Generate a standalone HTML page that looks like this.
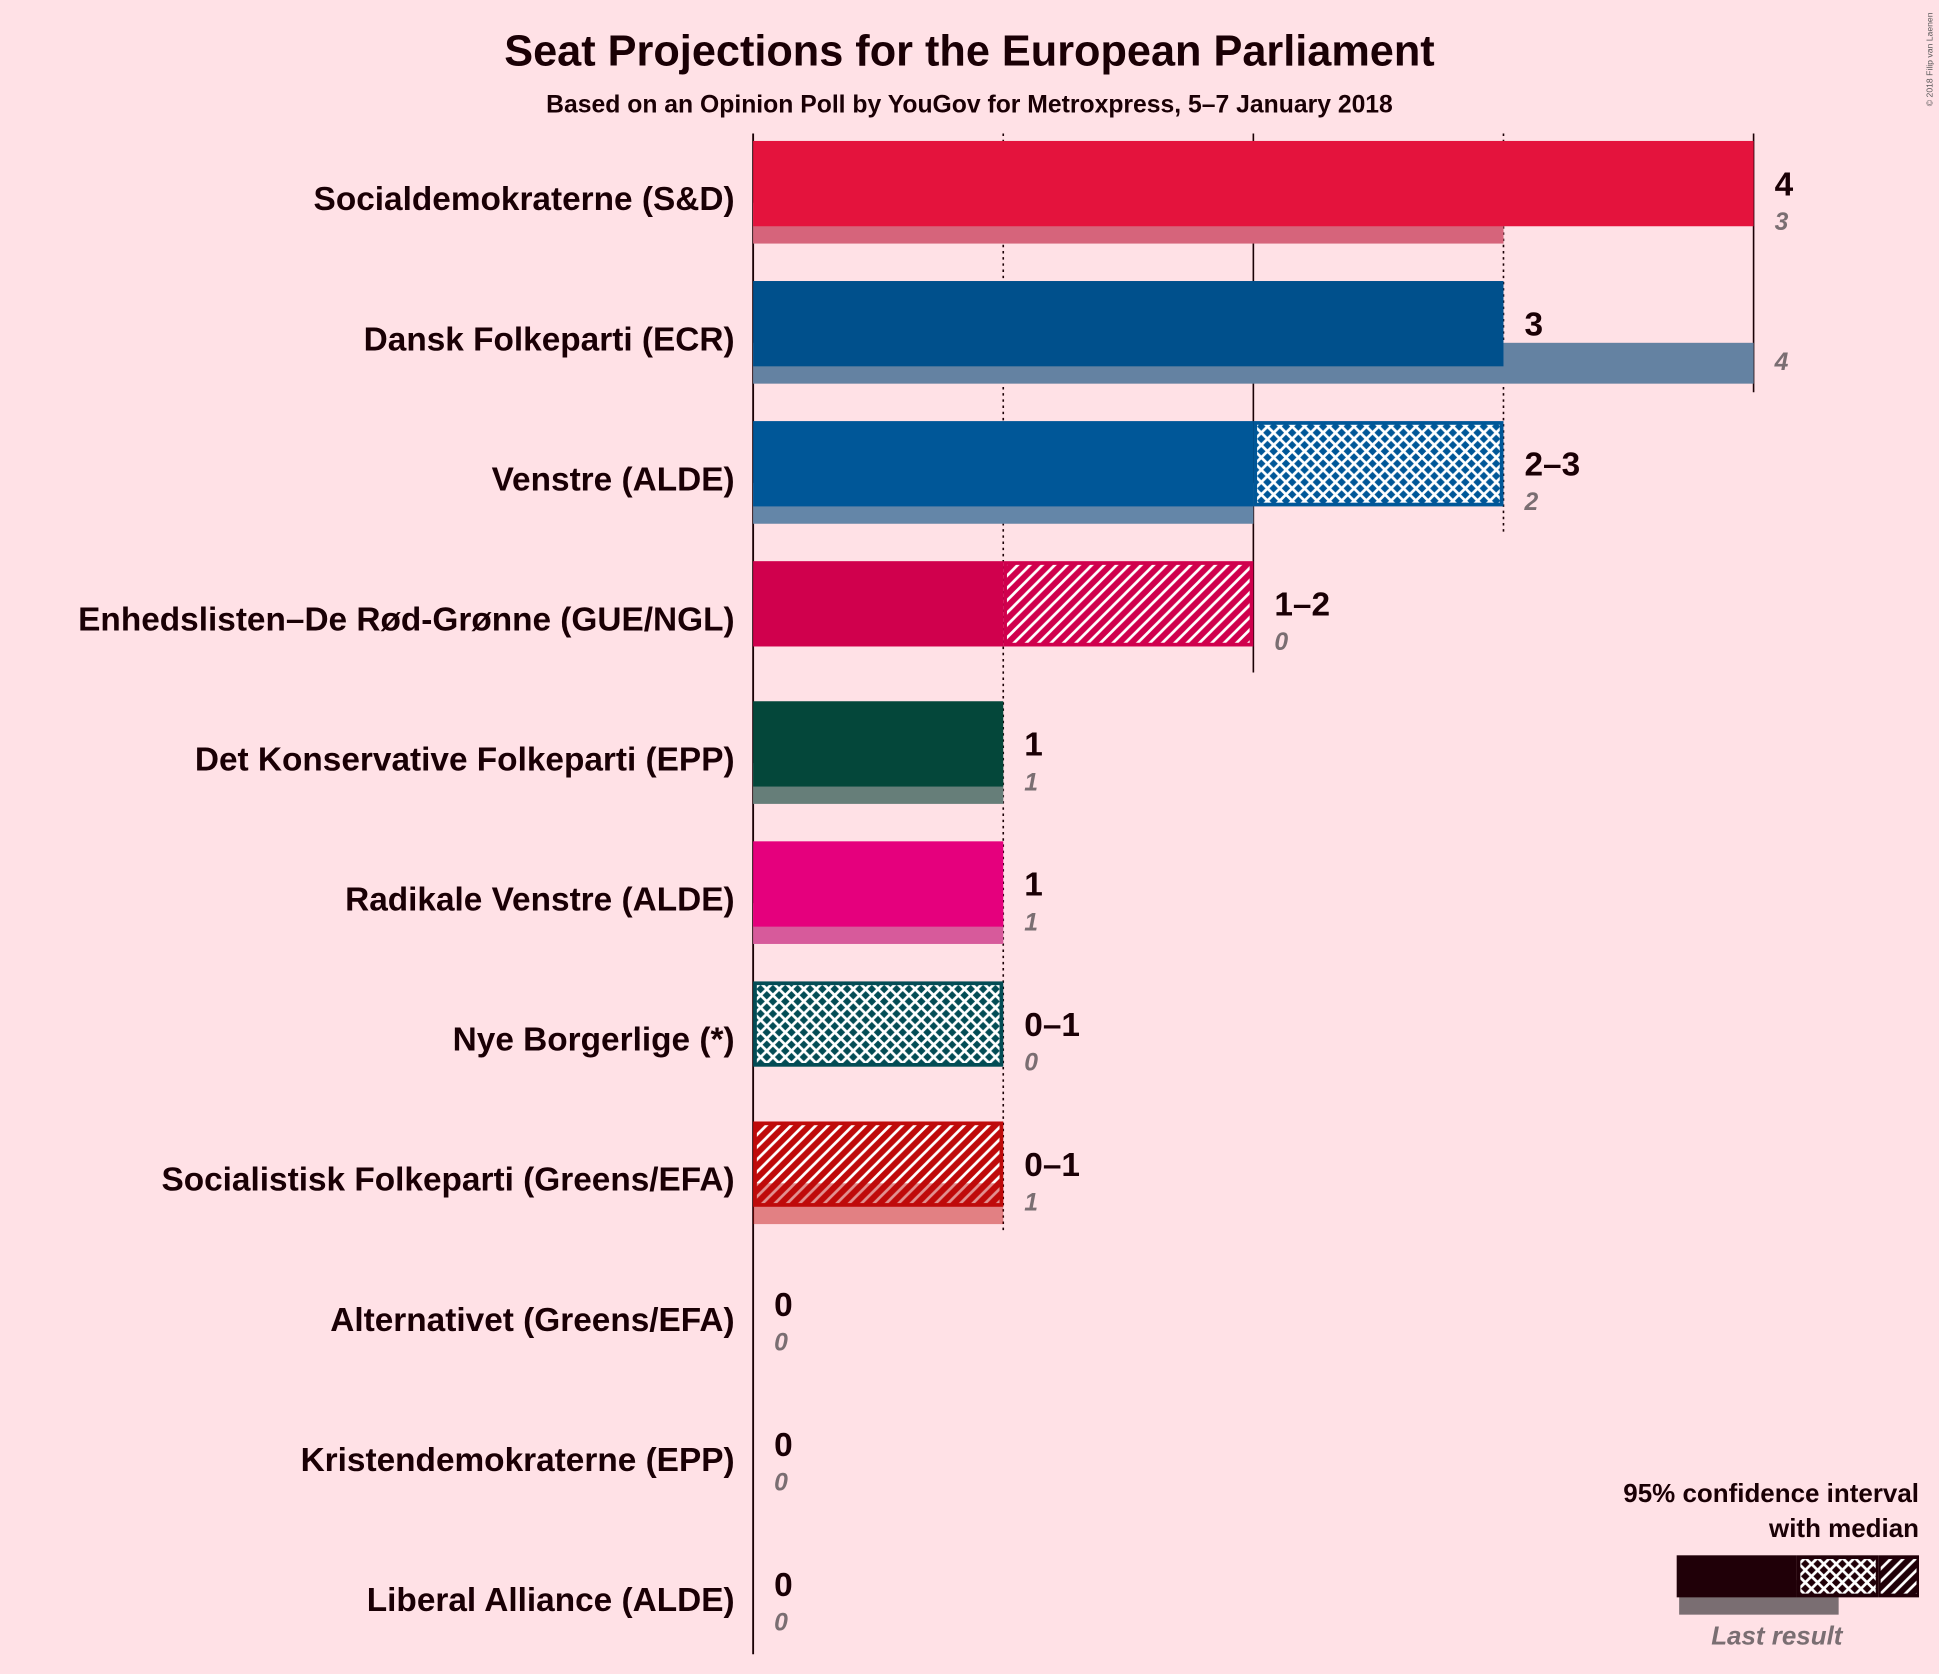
<!DOCTYPE html>
<html><head><meta charset="utf-8"><style>
html,body{margin:0;padding:0;background:#FFE1E6;}
svg{display:block;font-family:"Liberation Sans",sans-serif;}
</style></head><body>
<svg id="chart" width="1939" height="1674" viewBox="0 0 1568 1354" xmlns="http://www.w3.org/2000/svg">
<defs>
<pattern id="cross" patternUnits="userSpaceOnUse" width="10" height="10">
<path d="M0,0L10,10M10,0L0,10" stroke="#fff" stroke-width="2.2"/>
</pattern>
<pattern id="diag" patternUnits="userSpaceOnUse" width="10" height="10">
<path d="M-2,12L12,-2M-2,2L2,-2M8,12L12,8" stroke="#fff" stroke-width="2.2"/>
</pattern>
</defs>
<rect width="1568" height="1354" fill="#FFE1E6"/>
<text x="784" y="53" text-anchor="middle" font-size="35" font-weight="bold" fill="#1a0005">Seat Projections for the European Parliament</text>
<text x="784" y="91" text-anchor="middle" font-size="20" font-weight="bold" fill="#1a0005">Based on an Opinion Poll by YouGov for Metroxpress, 5–7 January 2018</text>
<text transform="translate(1563,48) rotate(-90)" text-anchor="middle" font-size="7" fill="#555">© 2018 Filip van Laenen</text>
<g id="grid"></g><g id="bars"></g>
<g>
<text x="1552" y="1215" text-anchor="end" font-size="21" font-weight="bold" fill="#1a0005">95% confidence interval</text>
<text x="1552" y="1243" text-anchor="end" font-size="21" font-weight="bold" fill="#1a0005">with median</text>
<rect x="1358" y="1278" width="129" height="28" fill="#7a6e72"/>
<rect x="1356" y="1258" width="97" height="34" fill="#200008"/>
<rect x="1453" y="1258" width="66" height="34" fill="#200008"/>
<rect x="1456" y="1261" width="61" height="28" fill="url(#cross)"/>
<rect x="1519" y="1258" width="33" height="34" fill="#200008"/>
<rect x="1521" y="1261" width="29" height="28" fill="url(#diag)"/>
<text x="1437" y="1330" text-anchor="middle" font-size="21" font-style="italic" font-weight="bold" fill="#7a6e72">Last result</text>
</g>
</svg>
<script>
const parties=["Socialdemokraterne (S&D)","Dansk Folkeparti (ECR)","Venstre (ALDE)","Enhedslisten–De Rød-Grønne (GUE/NGL)","Det Konservative Folkeparti (EPP)","Radikale Venstre (ALDE)","Nye Borgerlige (*)","Socialistisk Folkeparti (Greens/EFA)","Alternativet (Greens/EFA)","Kristendemokraterne (EPP)","Liberal Alliance (ALDE)"];
const lows=[4,3,2,1,1,1,0,0,0,0,0];
const medians=[4,3,3,1,1,1,1,0,0,0,0];
const highs=[4,3,3,2,1,1,1,1,0,0,0];
const lastResults=[3,4,2,0,1,1,0,1,0,0,0];
const colors=["#E4133D","#00508C","#005798","#D0004D","#04473A","#E5007D","#034C55","#BF0A0A","#5AB54B","#F29D00","#12B3C9"];
const NS="http://www.w3.org/2000/svg";
const x0=609,seatW=202.3;
function xs(v){return x0+v*seatW;}
function rowTop(i){return 114+i*113.3;}
function mk(tag,attrs,parent){const e=document.createElementNS(NS,tag);for(const k in attrs)e.setAttribute(k,attrs[k]);parent.appendChild(e);return e;}
const grid=document.getElementById('grid'),bars=document.getElementById('bars');
for(let k=1;k<=4;k++){
  let lastRow=-1;
  for(let i=0;i<parties.length;i++){if(highs[i]>=k||lastResults[i]>=k)lastRow=i;}
  if(lastRow<0)continue;
  const l=mk('line',{x1:xs(k),x2:xs(k),y1:108,y2:rowTop(lastRow)+90,stroke:'#1a0005','stroke-width':1.3,'stroke-dasharray':k%2==0?'none':'2,3'},grid);
  
  
}
const ax=mk('line',{x1:x0,x2:x0,y1:108,y2:1338,stroke:'#1a0005','stroke-width':1.5},grid);


parties.forEach((p,i)=>{
  const t=rowTop(i),c=colors[i];
  const g=mk('g',{},bars);
  
  
  const lab=mk('text',{x:594,y:t+56,'text-anchor':'end','font-size':27,'font-weight':'bold',fill:'#1a0005'},g);
  lab.textContent=p;
  
  
  function lastBar(nm,base){
    const w=xs(lastResults[i])-x0;
    if(base){
      const u=mk('rect',{x:x0,y:t+50,width:w,height:33,fill:'#C8B4B8'},g);
      
      
    }
    const lr=mk('rect',{x:x0,y:t+50,width:w,height:33,fill:c,opacity:base?0.5:0.45},g);
    
    
  }
  const overlay=lastResults[i]>0 && lows[i]<lastResults[i] && lastResults[i]<=highs[i];
  if(lastResults[i]>0 && !overlay) lastBar('last-result-bar',true);
  if(lows[i]>0){
    const b=mk('rect',{x:x0,y:t,width:xs(lows[i])-x0,height:69,fill:c},g);
    
    
  }
  function hatch(a,b2,pat,nm){
    if(b2<=a)return;
    const r=mk('rect',{x:xs(a)+1.5,y:t+1.5,width:xs(b2)-xs(a)-3,height:66,fill:c,stroke:c,'stroke-width':3},g);
    
    
    const h=mk('rect',{x:xs(a)+3,y:t+3,width:xs(b2)-xs(a)-6,height:63,fill:'url(#'+pat+')'},g);
    
    
  }
  hatch(lows[i],medians[i],'cross','bar-crosshatch');
  hatch(medians[i],highs[i],'diag','bar-diagonal');
  if(overlay) lastBar('last-result-overlay',false);
  const v=mk('text',{x:xs(highs[i])+17,y:t+44,'font-size':27,'font-weight':'bold',fill:'#1a0005'},g);
  v.textContent=lows[i]===highs[i]?String(lows[i]):lows[i]+'–'+highs[i];
  
  
  const lt=mk('text',{x:xs(Math.max(highs[i],lastResults[i]))+17,y:t+72,'font-size':20,'font-style':'italic','font-weight':'bold',fill:'#7a6e72'},g);
  lt.textContent=String(lastResults[i]);
  
  
});
</script>
</body></html>
